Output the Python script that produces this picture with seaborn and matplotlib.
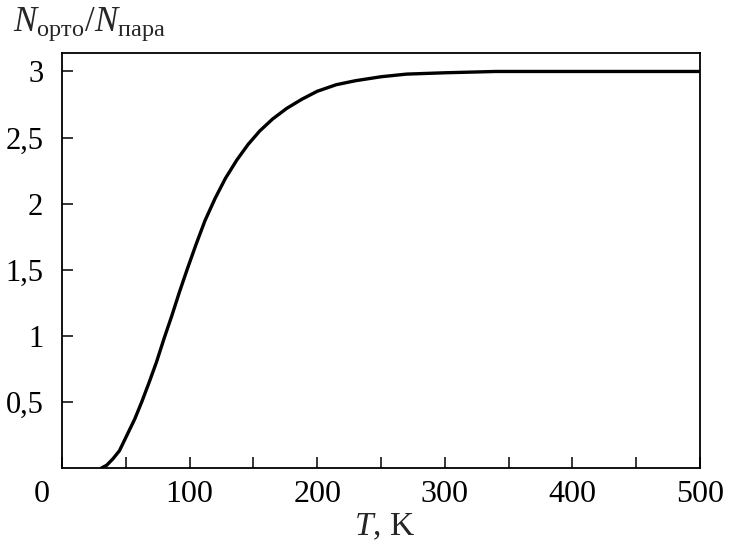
import numpy as np
import pandas as pd
import matplotlib
matplotlib.use('Agg')
import matplotlib.pyplot as plt
from matplotlib.ticker import MultipleLocator, FixedLocator
from matplotlib.transforms import ScaledTranslation
import seaborn as sns

# values
temp_k = [31, 35, 40, 45, 51, 57, 62.5, 68, 74, 80, 86, 92, 98, 105, 112,
          120, 128, 137, 146, 155, 165, 176, 188, 200, 215, 230, 250, 270,
          300, 340, 400, 450, 500]
ratio = [0.0, 0.02, 0.07, 0.13, 0.25, 0.37, 0.50, 0.64, 0.80, 0.98, 1.15,
         1.33, 1.50, 1.69, 1.87, 2.04, 2.19, 2.33, 2.45, 2.55, 2.64, 2.72,
         2.79, 2.85, 2.90, 2.93, 2.96, 2.98, 2.99, 3.0, 3.0, 3.0, 3.0]

x_ticks = [0, 100, 200, 300, 400, 500]
y_ticks = [0.5, 1, 1.5, 2, 2.5, 3]
y_tick_labels = ['0,5', '1', '1,5', '2', '2,5', '3']

sns.set_style('ticks')
plt.rcParams['font.family'] = ['Liberation Serif', 'DejaVu Serif']
plt.rcParams['mathtext.fontset'] = 'custom'
plt.rcParams['mathtext.rm'] = 'Liberation Serif'
plt.rcParams['mathtext.it'] = 'Liberation Serif:italic'

df = pd.DataFrame({'T': temp_k, 'N': ratio})

fig = plt.figure(figsize=(7.33, 5.46), dpi=100)
ax = fig.add_axes([0.0846, 0.143, 0.8704, 0.760])

sns.lineplot(data=df, x='T', y='N', color='black', linewidth=2.4, ax=ax)

ax.set_xlim(0, 500)
ax.set_ylim(0, 3.14)
ax.xaxis.set_major_locator(FixedLocator(x_ticks))
ax.xaxis.set_minor_locator(MultipleLocator(50))
ax.set_yticks(y_ticks)
ax.set_yticklabels(y_tick_labels)

ax.tick_params(axis='both', which='both', direction='in', length=8,
               width=1.1, top=False, right=False,
               color='black', labelcolor='black')
ax.tick_params(axis='x', which='major', pad=9, labelsize=23)
ax.tick_params(axis='y', which='major', pad=13.5, labelsize=22)

# the "0" under the corner sits a bit to the left, like in the book
zero_lbl = ax.get_xticklabels()[0]
zero_lbl.set_transform(zero_lbl.get_transform()
                       + ScaledTranslation(-0.2, 0, fig.dpi_scale_trans))

for s in ax.spines.values():
    s.set_linewidth(1.3)
    s.set_color('black')

ax.set_xlabel('')
ax.set_ylabel('')
fig.text(0.525, 0.035, r'$T$, K', fontsize=24, ha='center', va='center')
fig.text(0.018, 0.955, r'$N_{\mathrm{орто}}/N_{\mathrm{пара}}$', fontsize=25,
         ha='left', va='center')

fig.savefig('out.png', dpi=100, facecolor='white')
